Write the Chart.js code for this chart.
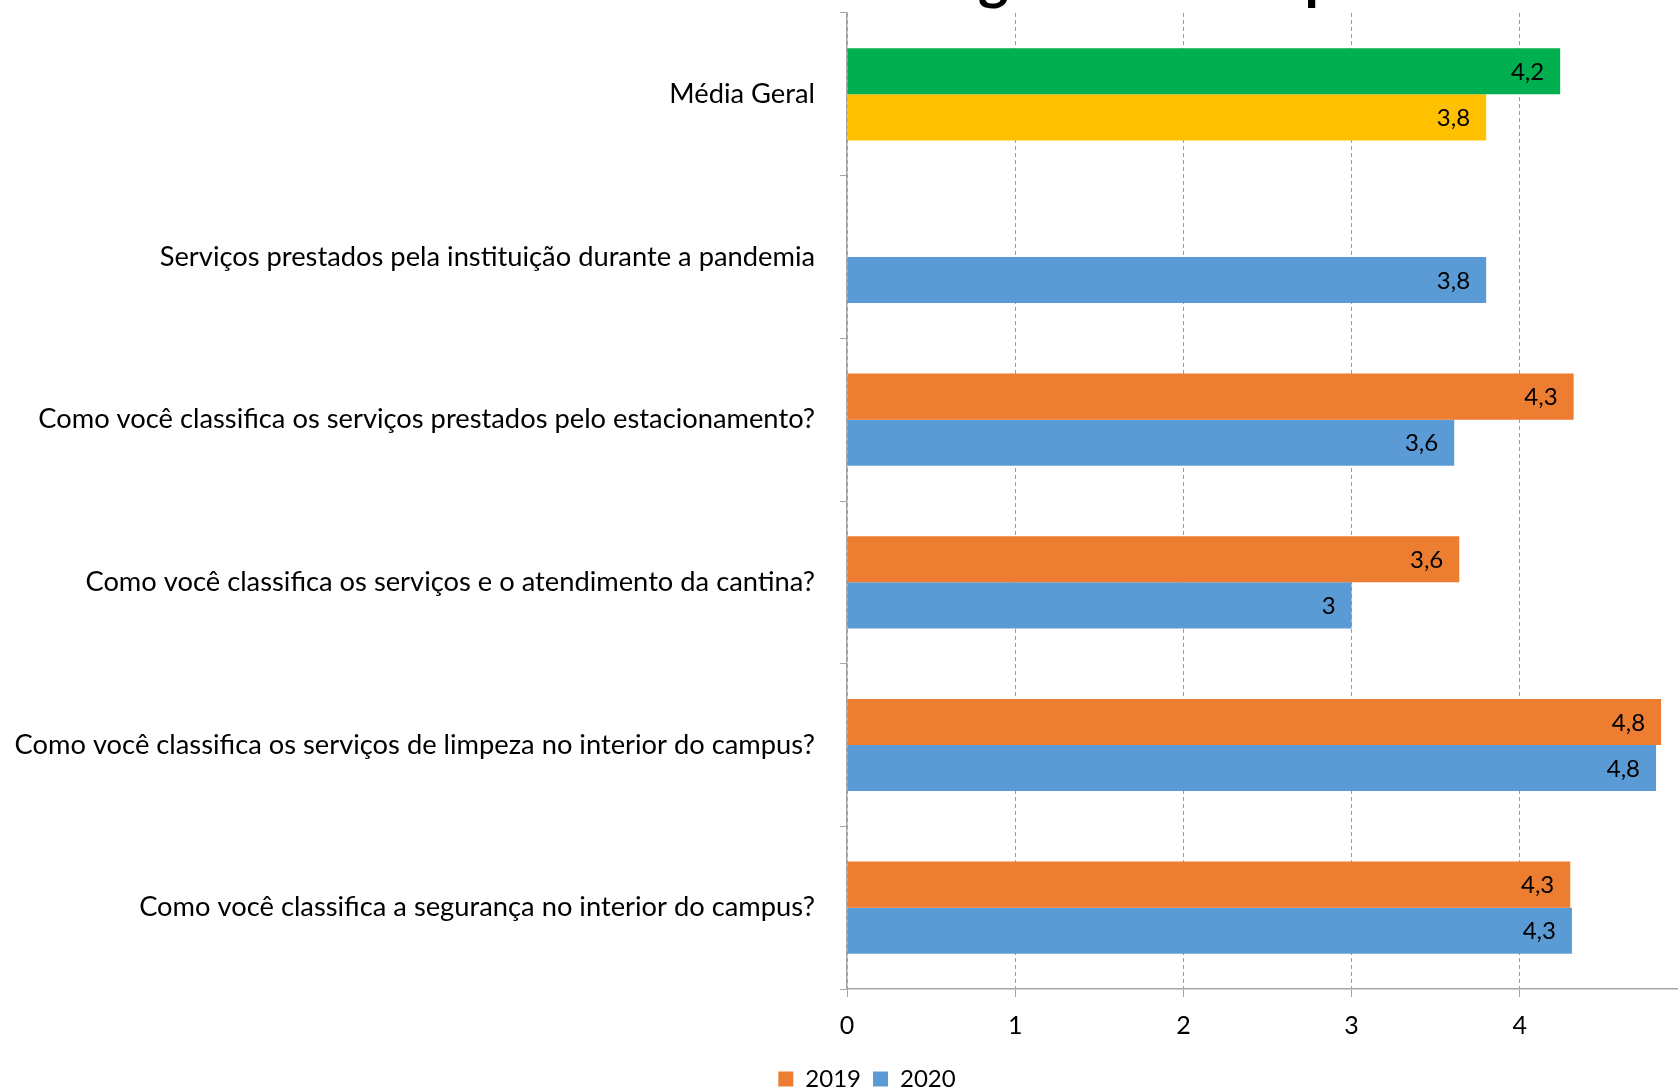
<!DOCTYPE html>
<html lang="pt-BR">
<head>
  <meta charset="UTF-8" />
  <title>Avaliação da infraestrutura do campus</title>
  <style>
    html, body {
      margin: 0;
      padding: 0;
      background: #fff;
      overflow: hidden;
    }
    body {
      width: 1678px;
      height: 1087px;
      position: relative;
      font-family: Lato, sans-serif;
    }
    .title {
      position: absolute;
      left: 600px;
      top: -53px;
      font: bold 58px Lato, sans-serif;
      line-height: 58px;
      color: #000;
      white-space: nowrap;
      z-index: 2;
    }
    .chart-box {
      position: absolute;
      left: 0;
      top: 0;
      width: 1720px;
      height: 1101px;
    }
  </style>
</head>
<body>
  <div class="title" id="title">Infraestrutura <span id="titleMark">geral</span> do campus</div>
  <div class="chart-box"><canvas id="barChart"></canvas></div>

  <script src="https://cdn.jsdelivr.net/npm/chart.js"></script>
  <script>
    const categories = [
      'Média Geral',
      'Serviços prestados pela instituição durante a pandemia',
      'Como você classifica os serviços prestados pelo estacionamento?',
      'Como você classifica os serviços e o atendimento da cantina?',
      'Como você classifica os serviços de limpeza no interior do campus?',
      'Como você classifica a segurança no interior do campus?'
    ];
    const values2019 = [4.24, null, 4.32, 3.64, 4.84, 4.30];
    const values2020 = [3.80, 3.80, 3.61, 3.00, 4.81, 4.31];
    const xTicks = [0, 1, 2, 3, 4, 5];

    const orange = '#ED7D31';
    const blue = '#5B9BD5';
    const green = '#00B050';
    const yellow = '#FFC000';
    const axisGray = '#a6a6a6';

    // title is mostly above the page edge, line it up so "geral" starts near x=978
    const titleEl = document.getElementById('title');
    const mark = document.getElementById('titleMark');
    titleEl.style.left = (978 - mark.offsetLeft) + 'px';

    // first row (Média Geral) has its own colours
    const colors2019 = categories.map((c, i) => i === 0 ? green : orange);
    const colors2020 = categories.map((c, i) => i === 0 ? yellow : blue);

    function fmt(v) {
      return String(Math.round(v * 10) / 10).replace('.', ',');
    }

    // value labels at the inner end of each bar
    const barValueLabels = {
      id: 'barValueLabels',
      afterDatasetsDraw(chart) {
        const ctx = chart.ctx;
        ctx.save();
        ctx.font = '24px Lato, sans-serif';
        ctx.fillStyle = '#000';
        ctx.textAlign = 'right';
        ctx.textBaseline = 'middle';
        chart.data.datasets.forEach((ds, i) => {
          chart.getDatasetMeta(i).data.forEach((bar, j) => {
            const v = ds.data[j];
            if (v == null) return;
            ctx.fillText(fmt(v), bar.x - 16, bar.y + 1);
          });
        });
        ctx.restore();
      }
    };

    // the original legend sits a bit right of the canvas centre
    const legendShift = {
      id: 'legendShift',
      afterLayout(chart) {
        if (!chart.legend) return;
        chart.legend.left += 23;
        chart.legend.right += 23;
      }
    };

    const ctx = document.getElementById('barChart').getContext('2d');
    new Chart(ctx, {
      type: 'bar',
      data: {
        labels: categories,
        datasets: [
          {
            label: '2019',
            data: values2019,
            backgroundColor: colors2019,
            categoryPercentage: 0.567,
            barPercentage: 1.0
          },
          {
            label: '2020',
            data: values2020,
            backgroundColor: colors2020,
            categoryPercentage: 0.567,
            barPercentage: 1.0
          }
        ]
      },
      options: {
        indexAxis: 'y',
        responsive: true,
        maintainAspectRatio: false,
        animation: false,
        layout: {
          padding: { top: 13, left: 0, right: 32, bottom: 0 }
        },
        plugins: {
          title: { display: false },
          tooltip: { enabled: false },
          legend: {
            position: 'bottom',
            labels: {
              boxWidth: 15,
              boxHeight: 15,
              padding: 12,
              color: '#000',
              font: { family: 'Lato', size: 24 },
              generateLabels: () => [
                { text: '2019', fillStyle: orange, strokeStyle: orange, lineWidth: 0, datasetIndex: 0 },
                { text: '2020', fillStyle: blue, strokeStyle: blue, lineWidth: 0, datasetIndex: 1 }
              ]
            }
          }
        },
        scales: {
          x: {
            min: xTicks[0],
            max: xTicks[xTicks.length - 1],
            afterBuildTicks: (scale) => {
              scale.ticks = xTicks.map(v => ({ value: v }));
            },
            grid: {
              color: '#9a9a9a',
              lineWidth: 1,
              tickLength: 8,
              tickColor: axisGray
            },
            border: { color: axisGray, width: 1.5, dash: [4, 3] },
            ticks: {
              color: '#000',
              padding: 14,
              font: { family: 'Lato', size: 25 }
            }
          },
          y: {
            afterFit: (scale) => {
              scale.width = 847;
              scale.paddingTop = 0;
              scale.paddingBottom = 0;
            },
            grid: {
              drawOnChartArea: false,
              drawTicks: true,
              tickLength: 7,
              color: axisGray
            },
            border: { color: axisGray, width: 1.5 },
            ticks: {
              color: '#000',
              padding: 25,
              font: { family: 'Lato', size: 27.3 }
            }
          }
        }
      },
      plugins: [barValueLabels, legendShift]
    });
  </script>
</body>
</html>
